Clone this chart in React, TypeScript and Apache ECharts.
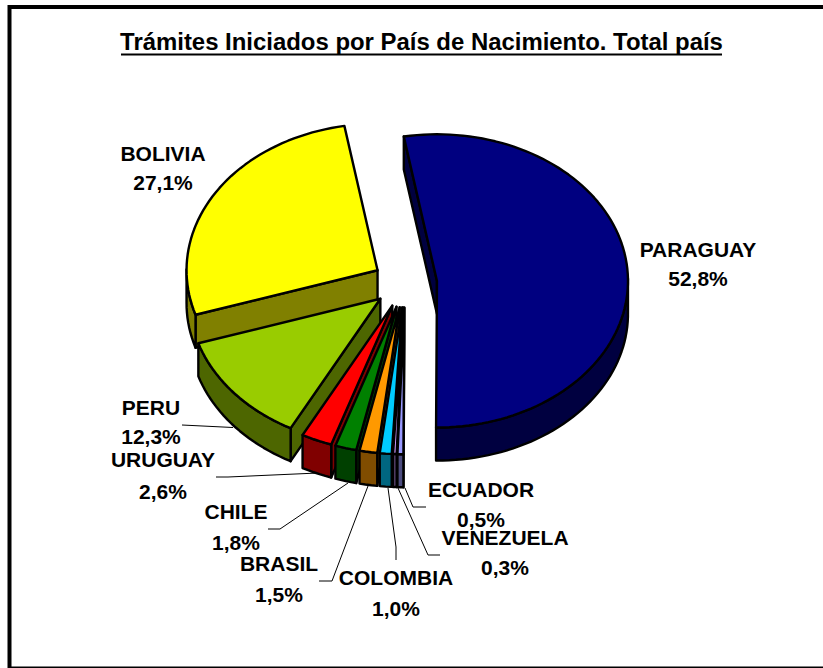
import React, { useEffect, useRef } from "react";
import * as echarts from "echarts";

const countries = ["PARAGUAY", "ECUADOR", "VENEZUELA", "COLOMBIA", "BRASIL", "CHILE", "URUGUAY", "PERU", "BOLIVIA"];
const shares = [52.8, 0.5, 0.3, 1.0, 1.5, 1.8, 2.6, 12.3, 27.1];
const topColors = ["#000080", "#9999FF", "#CC99FF", "#00CCFF", "#FF9900", "#008000", "#FF0000", "#99CC00", "#FFFF00"];
const wallColors = ["#000040", "#4D4D80", "#664D80", "#006680", "#804D00", "#004000", "#800000", "#4D6600", "#808000"];
const titleText = "Trámites Iniciados por País de Nacimiento. Total país";

// Label anchors: [centre x, first line y, second line y]
const labelSpots = [
  [698, 250, 279], [481, 490, 520], [505, 538, 568], [396, 578, 609], [279, 564, 595],
  [236, 512, 543], [163, 460, 492], [151, 408, 437], [163, 154, 183],
];
const leaders = [
  null,
  [[426, 507], [413, 507], [405, 488]],
  [[440, 555], [428, 555], [398, 488]],
  [[396, 560], [396, 547], [388, 488]],
  [[319, 581], [332, 581], [368, 486]],
  [[268, 529], [280, 529], [348, 483]],
  [[216, 477], [228, 477], [318, 473]],
  [[182, 425], [233, 427.5]],
  null,
];

const CX = 405, CY = 283, RX = 191, RY = 146.6, DEPTH = 33, EXPLODE = 0.168, START = -10;
const total = shares.reduce((a, b) => a + b, 0);
const rad = (d: number) => (d * Math.PI) / 180;

function buildSlice(i: number) {
  const before = shares.slice(0, i).reduce((a, b) => a + b, 0);
  const a1 = START + (before / total) * 360;
  const a2 = a1 + (shares[i] / total) * 360;
  const mid = rad((a1 + a2) / 2);
  const ax = CX + EXPLODE * RX * Math.sin(mid);
  const ay = CY - EXPLODE * RY * Math.cos(mid);
  const rim = (deg: number) => [ax + RX * Math.sin(rad(deg)), ay - RY * Math.cos(rad(deg))];
  const steps = Math.max(2, Math.ceil((a2 - a1) / 2));
  const arc: number[][] = [];
  for (let k = 0; k <= steps; k++) arc.push(rim(a1 + ((a2 - a1) * k) / steps));
  const down = (p: number[]) => [p[0], p[1] + DEPTH];
  const apex = [ax, ay];
  const wallStyle = { fill: wallColors[i], stroke: "#000", lineWidth: 2.4, lineJoin: "round" };
  const children: any[] = [];
  const wall = (pts: number[][]) => children.push({ type: "polygon", shape: { points: pts }, style: wallStyle });
  // Cut faces turned towards the viewer
  if (Math.sin(rad(a1)) < 0) wall([apex, arc[0], down(arc[0]), down(apex)]);
  if (Math.sin(rad(a2)) > 0.001) wall([apex, arc[arc.length - 1], down(arc[arc.length - 1]), down(apex)]);
  // Outer rim wall: the part of the arc on the near half
  const near = arc.filter((_, k) => Math.cos(rad(a1 + ((a2 - a1) * k) / steps)) < 0.02);
  if (near.length > 1) wall([...near, ...near.slice().reverse().map(down)]);
  children.push({
    type: "polygon",
    shape: { points: [apex, ...arc] },
    style: { fill: topColors[i], stroke: "#000", lineWidth: 2.4, lineJoin: "round" },
  });
  return children;
}

// Painted from the back of the pie to the front
const paintOrder = [8, 7, 6, 5, 4, 3, 2, 1, 0];
const labelFont = "bold 20px 'Liberation Sans', Arial, sans-serif";
const LABEL_STRETCH = 1.05;

export default function App() {
  const ref = useRef<HTMLDivElement>(null);
  useEffect(() => {
    document.body.style.margin = "0";
    const chart = echarts.init(ref.current!, null, { renderer: "svg" });
    chart.setOption({
      animation: false,
      backgroundColor: "#fff",
      series: [
        {
          type: "custom",
          coordinateSystem: "none",
          silent: true,
          clip: false,
          data: paintOrder.map((i) => ({ name: countries[i], value: shares[i] })),
          renderItem: (params: any) => ({
            type: "group",
            children: buildSlice(paintOrder[params.dataIndex]),
          }),
        },
      ],
      graphic: [
        {
          type: "rect",
          shape: { x: 9.5, y: 7, width: 900, height: 661.5 },
          style: { fill: "none", stroke: "#000", lineWidth: 4 },
          z: 0,
        },
        {
          type: "text",
          x: 421.5,
          y: 42,
          scaleX: 1.04,
          style: {
            text: titleText,
            font: "bold 23px 'Liberation Sans', Arial, sans-serif",
            fill: "#000",
            align: "center",
            verticalAlign: "middle",
          },
        },
        {
          type: "line",
          shape: { x1: 121, y1: 54.5, x2: 722, y2: 54.5 },
          style: { stroke: "#000", lineWidth: 2 },
        },
        ...leaders.flatMap((pts) =>
          pts ? [{ type: "polyline", shape: { points: pts }, style: { stroke: "#000", lineWidth: 1, fill: "none" } }] : []
        ),
        ...countries.flatMap((name, i) => [
          {
            type: "text",
            x: labelSpots[i][0],
            y: labelSpots[i][1],
            scaleX: LABEL_STRETCH,
            style: { text: name, font: labelFont, fill: "#000", align: "center", verticalAlign: "middle" },
          },
          {
            type: "text",
            x: labelSpots[i][0],
            y: labelSpots[i][2],
            scaleX: LABEL_STRETCH,
            style: {
              text: shares[i].toFixed(1).replace(".", ",") + "%",
              font: labelFont,
              fill: "#000",
              align: "center",
              verticalAlign: "middle",
            },
          },
        ]),
      ],
    });
    return () => chart.dispose();
  }, []);
  return <div ref={ref} style={{ width: 823, height: 668 }} />;
}
